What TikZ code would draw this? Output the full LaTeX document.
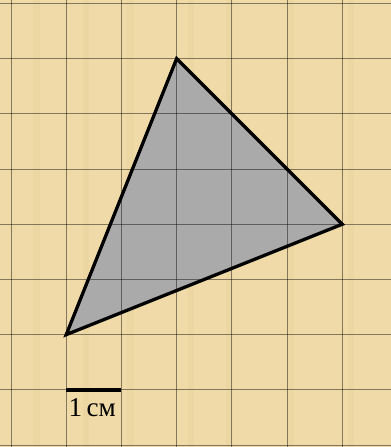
\documentclass[tikz,border=0pt]{standalone}
\usepackage{fontspec}
\setmainfont{Liberation Serif}
\definecolor{papyrus}{RGB}{240,219,168}
\definecolor{papyrusdark}{RGB}{228,204,150}
\definecolor{trigray}{RGB}{170,170,170}
\begin{document}
\begin{tikzpicture}[
  gridline/.style={draw=black, line width=0.55pt, opacity=0.45},
  trifill/.style={fill=trigray},
  tri/.style={draw=black, line width=1.7pt, line join=miter},
  scalebar/.style={draw=black, line width=1.9pt},
  lbl/.style={font=\fontsize{14}{16}\selectfont, inner sep=0pt}
]
\useasboundingbox (0,0) rectangle (7.083,8.098);
\fill[papyrus] (0,0) rectangle (7.083,8.098);
% subtle texture stripes
\foreach \x in {0.6,1.5,2.3,3.4,4.1,5.2,6.3}{
  \fill[papyrusdark, opacity=0.25] (\x,0) rectangle ++(0.12,8.098);
}
\begin{scope}[shift={(0.2,0.035)}]
  \coordinate (A) at (3,7);
  \coordinate (B) at (6,4);
  \coordinate (C) at (1,2);
  \coordinate (S1) at (1,1);
  \coordinate (S2) at (2,1);
\end{scope}
\fill[trifill] (A) -- (B) -- (C) -- cycle;
% grid
\begin{scope}[shift={(0.2,0.035)}]
  \foreach \i in {0,...,7}{ \draw[gridline] (\i,-0.2) -- (\i,8.2); }
  \foreach \j in {0,...,8}{ \draw[gridline] (-0.3,\j) -- (7.2,\j); }
\end{scope}
\draw[tri] (A) -- (B) -- (C) -- cycle;
\draw[scalebar] (S1) -- (S2);
\node[lbl] (L) at (1.67,0.72) {1\,см};
\end{tikzpicture}
\end{document}
